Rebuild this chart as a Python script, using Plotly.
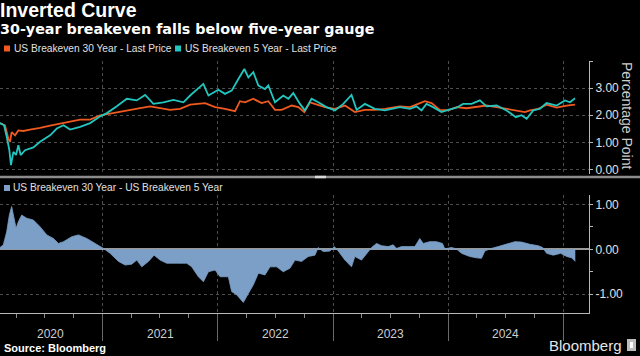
import plotly.graph_objects as go
from datetime import datetime

# ---------------- data ----------------
# decimal-year positions and values, US breakeven 30 year
t30 = [2020.109, 2020.152, 2020.181, 2020.196, 2020.210, 2020.239, 2020.268, 2020.311, 2020.369, 2020.456,
       2020.543, 2020.630, 2020.716, 2020.803, 2020.890, 2020.977,
       2021.063, 2021.150, 2021.237, 2021.324, 2021.411, 2021.497, 2021.584, 2021.671, 2021.758, 2021.888, 2021.975,
       2022.061, 2022.148, 2022.191, 2022.235, 2022.307, 2022.379, 2022.437, 2022.495, 2022.553, 2022.640,
       2022.698, 2022.750, 2022.799, 2022.842, 2022.929,
       2023.016, 2023.103, 2023.189, 2023.276, 2023.363, 2023.450, 2023.580, 2023.667, 2023.739, 2023.797,
       2023.855, 2023.927,
       2024.000, 2024.071, 2024.158, 2024.245, 2024.332, 2024.419, 2024.505, 2024.592, 2024.664, 2024.708,
       2024.780, 2024.852, 2024.939,
       2025.026, 2025.098]
be30 = [1.71, 1.63, 1.14, 1.02, 1.38, 1.26, 1.44, 1.42, 1.47, 1.53,
        1.62, 1.69, 1.77, 1.84, 1.84, 2.00,
        2.06, 2.12, 2.20, 2.26, 2.33, 2.26, 2.20, 2.24, 2.39, 2.45, 2.30,
        2.24, 2.15, 2.52, 2.48, 2.61, 2.45, 2.52, 2.20, 2.20, 2.36,
        2.30, 2.12, 2.48, 2.42, 2.30,
        2.24, 2.36, 2.12, 2.20, 2.20, 2.24, 2.33, 2.30, 2.42, 2.52,
        2.45, 2.20,
        2.18, 2.30, 2.26, 2.30, 2.36, 2.30, 2.24, 2.18, 2.12, 2.18,
        2.24, 2.39, 2.28,
        2.36, 2.39]

# US breakeven 5 year
t5 = [2020.109, 2020.144, 2020.167, 2020.190, 2020.204, 2020.225, 2020.248, 2020.268, 2020.288, 2020.326,
      2020.398, 2020.456, 2020.543, 2020.601, 2020.659, 2020.716, 2020.803, 2020.890, 2020.977,
      2021.035, 2021.121, 2021.208, 2021.295, 2021.367, 2021.439, 2021.526, 2021.613, 2021.700, 2021.758,
      2021.815, 2021.873, 2021.917,
      2022.003, 2022.061, 2022.119, 2022.177, 2022.229, 2022.264, 2022.307, 2022.351, 2022.408, 2022.437,
      2022.495, 2022.567, 2022.611, 2022.654, 2022.712, 2022.755, 2022.813, 2022.871, 2022.943,
      2023.016, 2023.088, 2023.160, 2023.204, 2023.276, 2023.363, 2023.450, 2023.580, 2023.667, 2023.724,
      2023.768, 2023.811, 2023.869, 2023.941,
      2024.000, 2024.071, 2024.129, 2024.202, 2024.274, 2024.332, 2024.419, 2024.505, 2024.586, 2024.635,
      2024.679, 2024.737, 2024.795, 2024.852, 2024.939,
      2025.011, 2025.055, 2025.098]
be5 = [1.71, 1.63, 1.20, 0.71, 0.16, 0.65, 0.53, 0.89, 0.53, 0.71,
       0.81, 1.02, 1.26, 1.51, 1.63, 1.47, 1.57, 1.71, 1.96,
       2.08, 2.33, 2.61, 2.55, 2.75, 2.42, 2.48, 2.57, 2.48, 2.73,
       2.94, 3.16, 2.73,
       2.94, 2.79, 2.91, 3.34, 3.71, 3.40, 3.59, 3.10, 2.97, 3.10,
       2.48, 2.73, 2.61, 2.82, 2.42, 2.18, 2.61, 2.48, 2.30,
       2.18, 2.42, 2.75, 2.20, 2.42, 2.24, 2.18, 2.30, 2.24, 2.33,
       2.18, 2.42, 2.30, 2.12,
       2.20, 2.28, 2.42, 2.42, 2.55, 2.33, 2.36, 2.18, 1.93, 2.00,
       1.87, 2.18, 2.24, 2.45, 2.36,
       2.55, 2.48, 2.63]

# spread: 30 year minus 5 year
tsp = [2020.109, 2020.138, 2020.167, 2020.190, 2020.210, 2020.230, 2020.248, 2020.268, 2020.297, 2020.340,
       2020.398, 2020.456, 2020.514, 2020.572, 2020.615, 2020.659, 2020.731, 2020.789, 2020.861, 2020.933,
       2021.006, 2021.063, 2021.136, 2021.194, 2021.251, 2021.295, 2021.338, 2021.396, 2021.445, 2021.497,
       2021.555, 2021.642, 2021.729, 2021.772, 2021.801, 2021.830, 2021.873, 2021.917, 2021.975,
       2022.018, 2022.090, 2022.119, 2022.162, 2022.220, 2022.264, 2022.307, 2022.351, 2022.408, 2022.452,
       2022.510, 2022.567, 2022.625, 2022.669, 2022.726, 2022.784, 2022.842, 2022.871, 2022.914, 2022.972,
       2023.010, 2023.045, 2023.103, 2023.160, 2023.189, 2023.247, 2023.305, 2023.334, 2023.377, 2023.421,
       2023.479, 2023.522, 2023.551, 2023.594, 2023.652, 2023.710, 2023.753, 2023.782, 2023.840, 2023.898,
       2023.950, 2023.970,
       2024.028, 2024.071, 2024.115, 2024.187, 2024.245, 2024.288, 2024.317, 2024.361, 2024.433, 2024.505,
       2024.578, 2024.635, 2024.708, 2024.780, 2024.818, 2024.852, 2024.910, 2024.974,
       2025.026, 2025.069, 2025.101]
spread = [0.04, 0.10, 0.39, 0.76, 0.95, 0.69, 0.47, 0.61, 0.76, 0.69,
          0.65, 0.50, 0.32, 0.24, 0.13, 0.17, 0.28, 0.32, 0.24, 0.13,
          0.02, -0.09, -0.27, -0.35, -0.33, -0.24, -0.39, -0.27, -0.13, -0.24,
          -0.31, -0.31, -0.31, -0.39, -0.50, -0.61, -0.72, -0.50, -0.46,
          -0.61, -0.61, -0.94, -1.01, -1.18, -0.98, -0.79, -0.53, -0.57, -0.39,
          -0.39, -0.50, -0.42, -0.24, -0.27, -0.16, -0.13, 0.04, -0.05, -0.04,
          0.06, -0.04, -0.24, -0.39, -0.16, -0.24, -0.05, 0.04, 0.13, 0.08,
          0.06, 0.10, 0.02, 0.06, 0.06, 0.06, 0.24, 0.13, 0.17, 0.17,
          0.13, 0.01,
          0.04, 0.01, -0.09, -0.16, -0.19, -0.20, -0.04, 0.01, 0.06, 0.11,
          0.17, 0.16, 0.11, 0.08, 0.04, -0.09, -0.13, -0.09,
          -0.16, -0.19, -0.27]

YEAR_LABELS = ["2020", "2021", "2022", "2023", "2024"]
YEAR_LABEL_POS = [2020.55, 2021.5, 2022.5, 2023.5, 2024.5]
YEAR_BOUNDS = ["2021-01-01", "2022-01-01", "2023-01-01", "2024-01-01", "2025-01-01"]
TOP_TICKS = [0, 1, 2, 3, 4]
TOP_TICKTEXT = ["0.00", "1.00", "2.00", "3.00", ""]
BOT_TICKS = [-1, 0, 1]
BOT_TICKTEXT = ["-1.00", "0.00", "1.00"]
X_START, X_END = 2020.109, 2025.22

C30 = "#f0591f"
C5 = "#22c6bf"
CSP = "#7b9fc7"
GRID = "#4d4d4d"
AXIS = "#b8b8b8"
TXT = "#e0e0e0"
FONT = "Liberation Sans, Arial, sans-serif"
FONT_WIDE = "DejaVu Sans, Liberation Sans, sans-serif"


def to_date(t):
    y = int(t)
    a, b = datetime(y, 1, 1), datetime(y + 1, 1, 1)
    return (a + (b - a) * (t - y)).strftime("%Y-%m-%d %H:%M")


W, H = 640, 356
def px(x):
    return x / W
def py(y):
    return 1 - y / H

x_range = [to_date(X_START), to_date(X_END)]
quarters = []
for yr in range(2020, 2026):
    for m in (1, 4, 7, 10):
        quarters.append(f"{yr}-{m:02d}-01")

fig = go.Figure()
fig.add_trace(go.Scatter(x=[to_date(t) for t in t30], y=be30, mode="lines",
                         line=dict(color=C30, width=1.8), xaxis="x", yaxis="y",
                         hoverinfo="skip", showlegend=False))
fig.add_trace(go.Scatter(x=[to_date(t) for t in t5], y=be5, mode="lines",
                         line=dict(color=C5, width=1.8), xaxis="x", yaxis="y",
                         hoverinfo="skip", showlegend=False))
fig.add_trace(go.Scatter(x=[to_date(t) for t in tsp], y=spread, mode="lines",
                         fill="tozeroy", fillcolor=CSP,
                         line=dict(color=CSP, width=0.8), xaxis="x2", yaxis="y2",
                         hoverinfo="skip", showlegend=False))

xdom = [0, px(589)]
common_x = dict(type="date", range=x_range, domain=xdom, tickmode="array", tickvals=YEAR_BOUNDS,
                showgrid=True, gridcolor=GRID, griddash="dot", gridwidth=1, zeroline=False,
                automargin=False, fixedrange=True)

fig.update_layout(
    width=W, height=H, autosize=False,
    margin=dict(l=0, r=0, t=0, b=0),
    paper_bgcolor="#000000", plot_bgcolor="#000000",
    template="none",
    font=dict(family=FONT, color=TXT, size=12),
    xaxis=dict(**common_x, anchor="y", showticklabels=False, ticks="", showline=False),
    yaxis=dict(domain=[py(174), py(60.6)], range=[-0.17, 4.02], side="right", anchor="x",
               tickmode="array", tickvals=TOP_TICKS, ticktext=TOP_TICKTEXT,
               ticks="outside", ticklen=3, tickcolor=AXIS, showline=True, linecolor=AXIS,
               linewidth=1, showgrid=True, gridcolor=GRID, griddash="dot", zeroline=False,
               tickfont=dict(size=12, color=TXT), automargin=False, fixedrange=True),
    xaxis2=dict(**common_x, anchor="y2", showticklabels=False, ticks="outside", ticklen=27,
                tickcolor="#6a6a6a", tickwidth=1, showline=True, linecolor=AXIS, linewidth=1,
                minor=dict(tickmode="array", tickvals=quarters, ticks="outside", ticklen=4,
                           tickcolor="#8a8a8a", showgrid=False)),
    yaxis2=dict(domain=[py(313), py(195)], range=[-1.416, 1.207], side="right", anchor="x2",
                tickmode="array", tickvals=BOT_TICKS, ticktext=BOT_TICKTEXT,
                ticks="outside", ticklen=3, tickcolor=AXIS, showline=True, linecolor=AXIS,
                linewidth=1, showgrid=True, gridcolor=GRID, griddash="dot",
                zeroline=True, zerolinecolor="#9a9a9a", zerolinewidth=1.5,
                minor=dict(tickmode="array", tickvals=[-0.5, 0.5], ticks="outside", ticklen=3,
                           tickcolor=AXIS, showgrid=False),
                tickfont=dict(size=12, color=TXT), automargin=False, fixedrange=True),
)

ann = []
ann.append(dict(text="<b>Inverted Curve</b>", x=px(-1), y=py(10), xref="paper", yref="paper",
                xanchor="left", yanchor="middle", showarrow=False, borderpad=0,
                font=dict(size=19.5, color="#ffffff", family=FONT)))
ann.append(dict(text="<b>30-year breakeven falls below five-year gauge</b>", x=px(-1), y=py(28.5),
                xref="paper", yref="paper", xanchor="left", yanchor="middle", showarrow=False,
                borderpad=0, font=dict(size=14.3, color="#ffffff", family=FONT_WIDE)))
ann.append(dict(text="US Breakeven 30 Year - Last Price", x=px(12), y=py(48.5), xref="paper",
                yref="paper", xanchor="left", yanchor="middle", showarrow=False,
                font=dict(size=10.2, color=TXT, family=FONT)))
ann.append(dict(text="US Breakeven 5 Year - Last Price", x=px(183), y=py(48.5), xref="paper",
                yref="paper", xanchor="left", yanchor="middle", showarrow=False,
                font=dict(size=10.2, color=TXT, family=FONT)))
ann.append(dict(text="US Breakeven 30 Year - US Breakeven 5 Year", x=px(11), y=py(188),
                xref="paper", yref="paper", xanchor="left", yanchor="middle", showarrow=False,
                font=dict(size=10.2, color=TXT, family=FONT)))
ann.append(dict(text="Percentage Point", x=px(627), y=py(116), xref="paper", yref="paper",
                xanchor="center", yanchor="middle", textangle=90, showarrow=False,
                font=dict(size=14, color="#cccccc", family=FONT)))
for lab, pos in zip(YEAR_LABELS, YEAR_LABEL_POS):
    ann.append(dict(text=lab, x=to_date(pos), y=py(334), xref="x2", yref="paper",
                    xanchor="center", yanchor="middle", showarrow=False,
                    font=dict(size=12, color="#cfcfcf", family=FONT)))
ann.append(dict(text="<b>Source: Bloomberg</b>", x=px(2), y=py(348), xref="paper", yref="paper",
                xanchor="left", yanchor="middle", showarrow=False,
                font=dict(size=11, color="#ffffff", family=FONT)))
ann.append(dict(text="Bloomberg", x=px(624), y=py(345), xref="paper", yref="paper",
                xanchor="right", yanchor="middle", showarrow=False,
                font=dict(size=15, color="#e6e6e6", family=FONT)))
fig.update_layout(annotations=ann)

shapes = []
# legend squares
shapes.append(dict(type="rect", xref="paper", yref="paper", x0=px(4), x1=px(10), y0=py(51.5), y1=py(45.5),
                   fillcolor=C30, line=dict(width=0)))
shapes.append(dict(type="rect", xref="paper", yref="paper", x0=px(175), x1=px(181), y0=py(51.5), y1=py(45.5),
                   fillcolor=C5, line=dict(width=0)))
shapes.append(dict(type="rect", xref="paper", yref="paper", x0=px(4), x1=px(10), y0=py(191), y1=py(185),
                   fillcolor=CSP, line=dict(width=0)))
# panel separator
shapes.append(dict(type="line", xref="paper", yref="paper", x0=0, x1=1, y0=py(177), y1=py(177),
                   line=dict(color="#8c8c8c", width=2.5)))
shapes.append(dict(type="line", xref="paper", yref="paper", x0=px(315), x1=px(326), y0=py(177), y1=py(177),
                   line=dict(color="#d8d8d8", width=2.5)))
# Bloomberg logo box
shapes.append(dict(type="rect", xref="paper", yref="paper", x0=px(627), x1=px(636), y0=py(351), y1=py(339),
                   fillcolor="#bdbdbd", line=dict(width=0)))
shapes.append(dict(type="rect", xref="paper", yref="paper", x0=px(630), x1=px(633), y0=py(348), y1=py(342),
                   fillcolor="#ffffff", line=dict(width=0)))
fig.update_layout(shapes=shapes)

fig.write_html("out.html", config={"displayModeBar": False},
               post_script="document.body.style.margin='0';document.body.style.background='#000';")
